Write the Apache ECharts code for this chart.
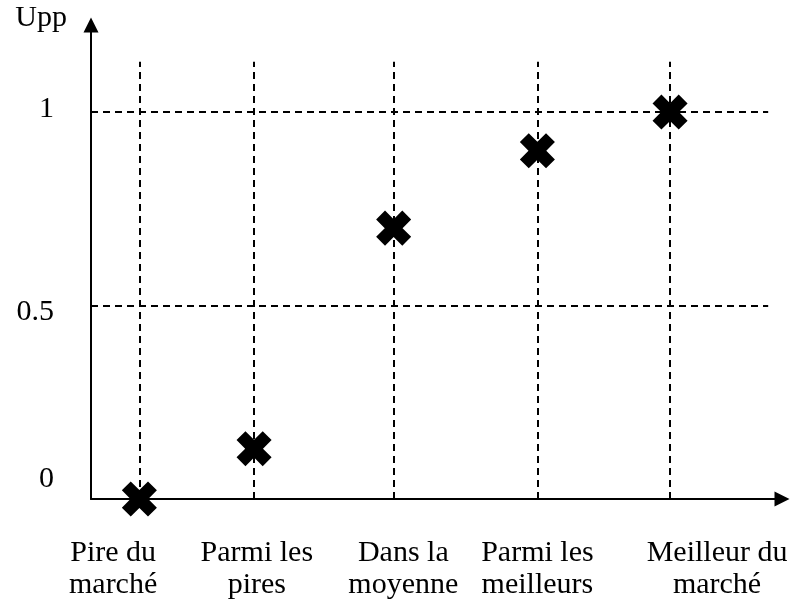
<!DOCTYPE html>
<html>
<head>
<meta charset="utf-8">
<script src="https://cdn.jsdelivr.net/npm/echarts@6/dist/echarts.min.js"></script>
<style>
  html, body { margin: 0; padding: 0; background: #fff; }
  #chart { width: 795px; height: 607px; }
</style>
</head>
<body>
<div id="chart"></div>
<script>
// Market position categories (label text, split over two lines)
const categories = ['Pire du\nmarché', 'Parmi les\npires', 'Dans la\nmoyenne', 'Parmi les\nmeilleurs', 'Meilleur du\nmarché'];
// Upp value for each category
const uppValues = [0, 0.13, 0.70, 0.90, 1.0];
// Where each category sits on the horizontal scale
const categoryX = [0.35, 1.18, 2.19, 3.23, 4.19];
// Where each category caption sits on the horizontal scale
const captionX = [0.16, 1.2, 2.26, 3.23, 4.53];
// Labelled ticks of the vertical axis
const yTicks = [0, 0.5, 1];
// Dashed reference levels
const refLevels = [0.5, 1];

const FONT = '"Liberation Serif", "Times New Roman", serif';
const dash = { color: '#000', width: 2, type: [7, 5] };

// X mark: a plus drawn as a path, rotated 45 degrees
const crossPath = 'path://M33,0 L67,0 L67,33 L100,33 L100,67 L67,67 L67,100 L33,100 L33,67 L0,67 L0,33 L33,33 Z';
// Solid arrow head for the axis ends
const arrowPath = 'path://M50,0 L100,100 L0,100 Z';

const points = categories.map((c, i) => [categoryX[i], uppValues[i]]);

const guideLines = [];
categoryX.forEach(x => guideLines.push([{ coord: [x, 0] }, { coord: [x, 1.13] }]));
refLevels.forEach(v => guideLines.push([{ coord: [0, v] }, { coord: [4.9, v] }]));

const axisLine = {
  lineStyle: { color: '#000', width: 2 },
  symbol: ['none', arrowPath],
  symbolSize: [15, 16]
};

const chart = echarts.init(document.getElementById('chart'), null, { renderer: 'canvas' });
chart.setOption({
  animation: false,
  backgroundColor: '#fff',
  textStyle: { fontFamily: FONT },
  grid: { left: 91, right: 13, top: 25, bottom: 108, containLabel: false },
  xAxis: {
    type: 'value',
    min: 0,
    max: 5,
    splitLine: { show: false },
    axisTick: { show: false },
    axisLine: axisLine,
    axisLabel: {
      customValues: captionX,
      margin: 38,
      color: '#000',
      fontFamily: FONT,
      fontSize: 30,
      lineHeight: 32,
      align: 'center',
      formatter: v => {
        const i = captionX.findIndex(x => Math.abs(x - v) < 1e-6);
        return i >= 0 ? categories[i] : '';
      }
    }
  },
  yAxis: {
    type: 'value',
    min: 0,
    max: 1.225,
    name: 'Upp',
    nameLocation: 'end',
    nameGap: 7,
    nameTextStyle: {
      color: '#000',
      fontFamily: FONT,
      fontSize: 30,
      align: 'right',
      verticalAlign: 'middle',
      padding: [0, 24, 0, 0]
    },
    splitLine: { show: false },
    axisTick: { show: false },
    axisLine: axisLine,
    axisLabel: {
      customValues: yTicks,
      margin: 37,
      color: '#000',
      fontFamily: FONT,
      fontSize: 30,
      align: 'right',
      formatter: v => {
        if (v === 0) return '{zero|0}';
        if (v === 0.5) return '{half|0.5}';
        return '{one|' + v + '}';
      },
      rich: {
        zero: { fontFamily: FONT, fontSize: 30, color: '#000', padding: [0, 0, 40, 0] },
        half: { fontFamily: FONT, fontSize: 30, color: '#000', padding: [14, 0, 0, 0] },
        one: { fontFamily: FONT, fontSize: 30, color: '#000', padding: [0, 0, 6, 0] }
      }
    }
  },
  series: [{
    type: 'scatter',
    data: points,
    symbol: crossPath,
    symbolSize: 37,
    symbolRotate: 45,
    itemStyle: { color: '#000', opacity: 1 },
    z: 5,
    markLine: {
      silent: true,
      symbol: ['none', 'none'],
      label: { show: false },
      lineStyle: dash,
      z: 1,
      data: guideLines
    }
  }]
});
</script>
</body>
</html>
